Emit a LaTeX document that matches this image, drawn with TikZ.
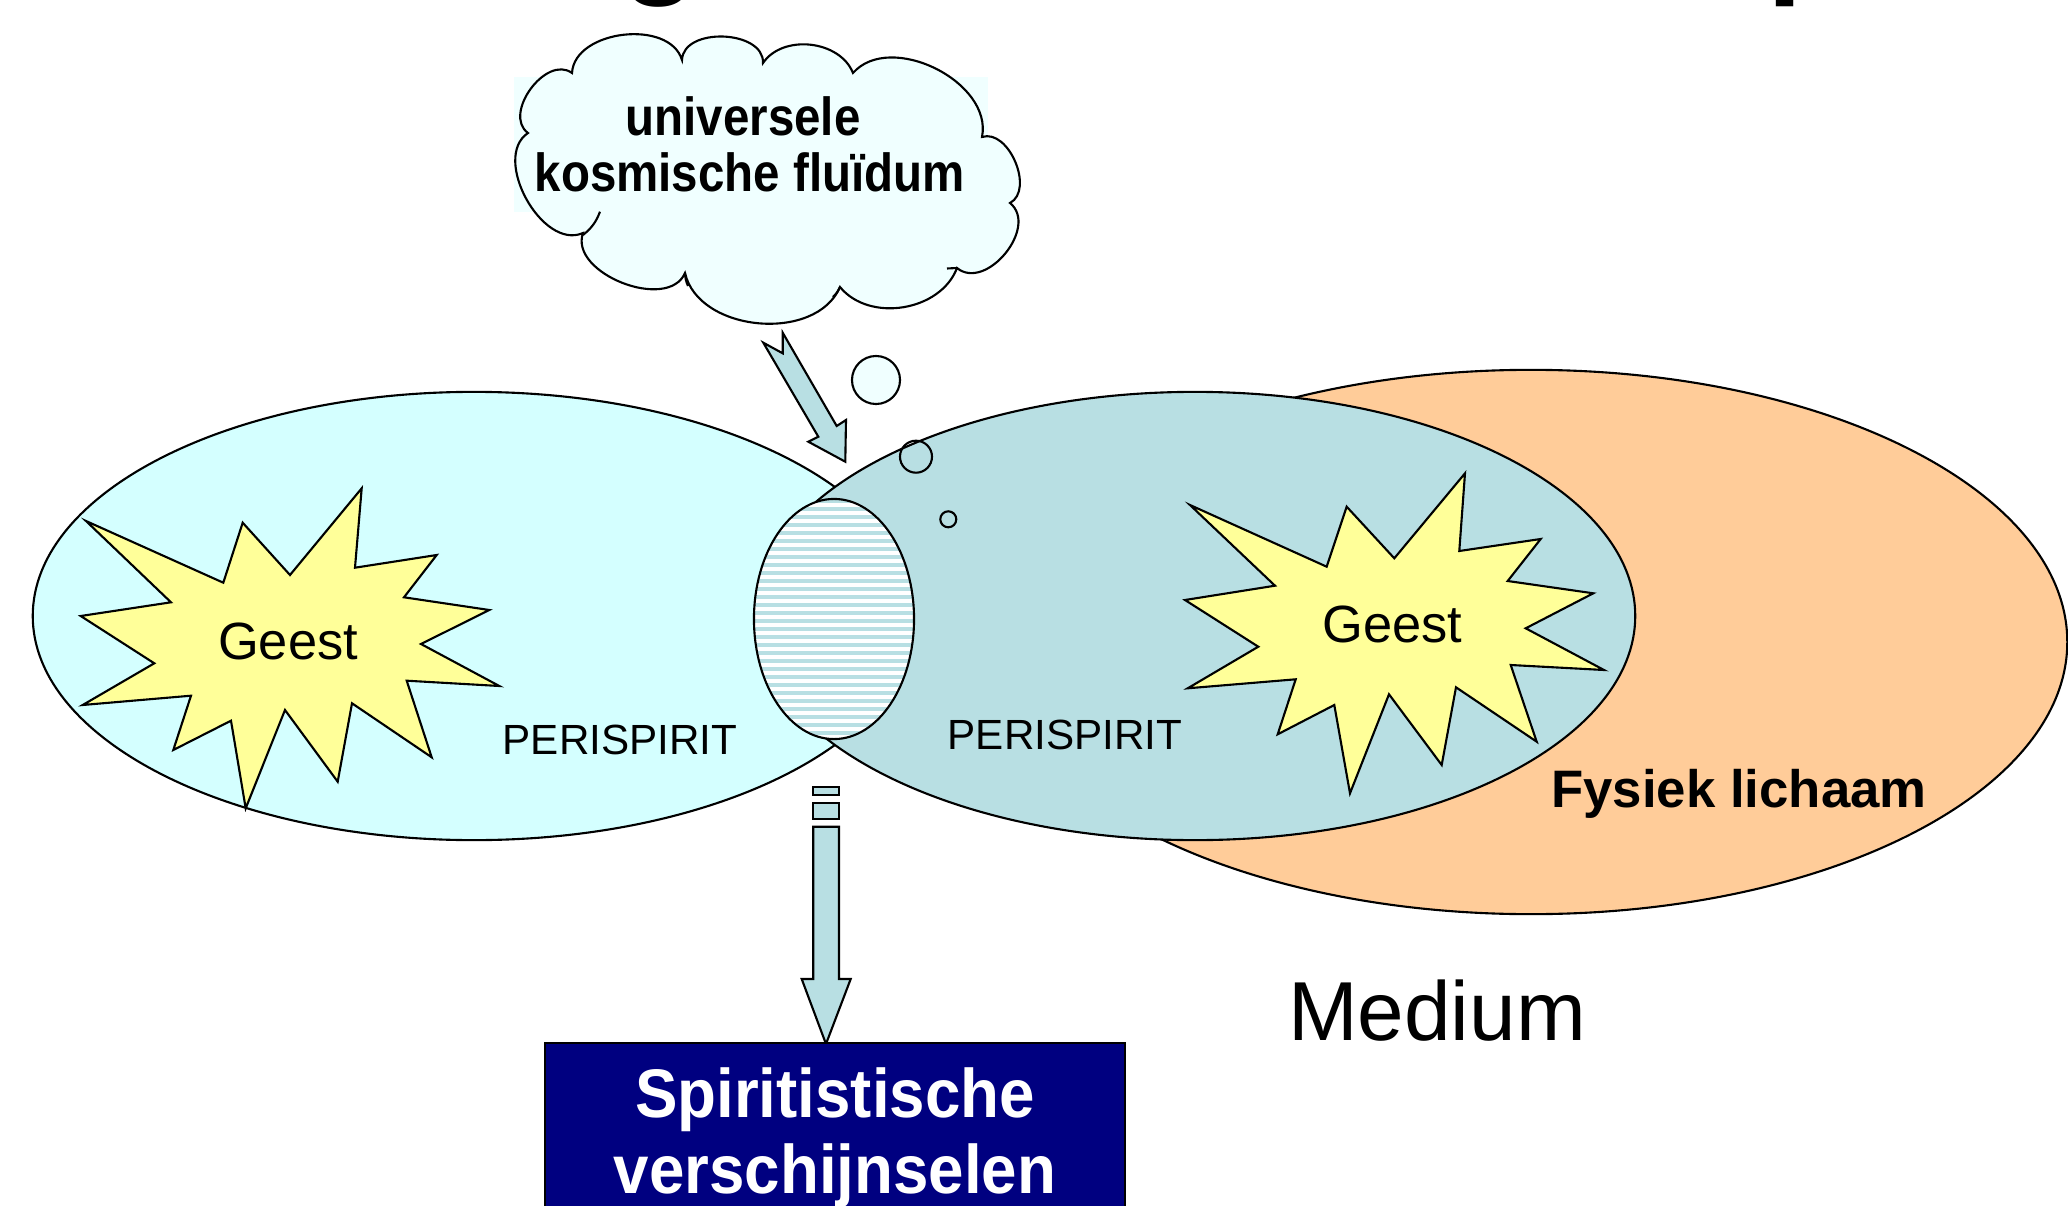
\documentclass[tikz,border=0pt]{standalone}
\usepackage{fontspec}
\usepackage{graphicx}
\setmainfont{Liberation Sans}
\definecolor{plcyan}{HTML}{D4FFFF}
\definecolor{pteal}{HTML}{B8DFE3}
\definecolor{porange}{HTML}{FFCC99}
\definecolor{pyellow}{HTML}{FFFF99}
\definecolor{pazure}{HTML}{F0FFFF}
\definecolor{pnavy}{HTML}{000080}
\begin{document}
\begin{tikzpicture}[x=0.01cm,y=-0.01cm,line join=miter,
  outline/.style={draw=black,line width=0.6pt},
  starshape/.style={outline,fill=pyellow},
  blockarrow/.style={outline,fill=pteal},
  lbl/.style={inner sep=0pt,anchor=base}]
\useasboundingbox (0,0) rectangle (2068,1206);
\clip (0,0) rectangle (2068,1206);

% title fragments (cut off at the top)
\node[inner sep=0pt,anchor=base west,font=\fontsize{36}{40}\selectfont\bfseries] (tg) at (621,-19) {g};
\node[inner sep=0pt,anchor=base west,font=\fontsize{36}{40}\selectfont\bfseries] (tp) at (1767,-19) {p};

% bodies
\draw[outline,fill=porange] (1531,642) ellipse [x radius=5.36cm,y radius=2.72cm];
\draw[outline,fill=plcyan] (474,616) ellipse [x radius=4.41cm,y radius=2.24cm];
\draw[outline,fill=pteal] (1195,616) ellipse [x radius=4.40cm,y radius=2.24cm];

% hatched overlap
\begin{scope}
\clip (834,619) ellipse [x radius=0.80cm,y radius=1.20cm];
\fill[white] (750,495) rectangle (920,745);
\foreach \k in {0,...,31} \draw[pteal,line width=1.1pt] (750,{501+8*\k}) -- (920,{501+8*\k});
\end{scope}
\draw[outline] (834,619) ellipse [x radius=0.80cm,y radius=1.20cm];

% stars
\draw[starshape] (86,521) -- (223.3,582.7) -- (242.7,522.7) -- (290,575) -- (361.7,488.3) -- (355,567.7) -- (436.7,555) -- (404,597.3) -- (489.3,610) -- (421,644) -- (499.3,686) -- (406.7,680.7) -- (431.7,757.3) -- (352,703.3) -- (337.7,781.7) -- (285,710) -- (245.7,808.3) -- (231,720.7) -- (173.3,750) -- (191,695.7) -- (82.7,705) -- (154.3,663.3) -- (80.7,616) -- (171,602.3) -- cycle;
\draw[starshape] (1190,505) -- (1326.7,566.7) -- (1346.7,506.7) -- (1394.3,558.3) -- (1465,473.3) -- (1459.3,551) -- (1540.7,539) -- (1507.7,581) -- (1593.3,593.3) -- (1525.7,628.3) -- (1604,670) -- (1510.7,665) -- (1536.7,741.7) -- (1456,687.3) -- (1441.7,765) -- (1389,694.3) -- (1350,793.3) -- (1334.3,705) -- (1277.7,734.3) -- (1295.7,679.3) -- (1187.7,688.3) -- (1258.3,646.7) -- (1185,600) -- (1275,585.7) -- cycle;

% labels
\node[lbl,font=\fontsize{14.9}{18}\selectfont] (geest1) at (288,659.3) {Geest};
\node[lbl,font=\fontsize{14.9}{18}\selectfont] (geest2) at (1392.3,642.7) {Geest};
\node[lbl,font=\fontsize{12}{14}\selectfont] (peri1) at (620,754.5) {PERISPIRIT};
\node[lbl,font=\fontsize{12}{14}\selectfont] (peri2) at (1065,749) {PERISPIRIT};
\node[lbl,font=\fontsize{15}{18}\selectfont\bfseries] (fysiek) at (1739,807) {Fysiek lichaam};
\node[lbl,font=\fontsize{23.8}{28}\selectfont] (medium) at (1437,1040.7) {Medium};

% thought bubbles
\draw[outline,fill=pazure] (876,380) circle [radius=0.24cm];
\draw[outline] (916,456.7) circle [radius=0.16cm];
\draw[outline] (948.3,519.3) circle [radius=0.08cm];

% cloud
\def\cloudpath{(528,133) to[bend left=90,looseness=1.1] (572,73) to[bend left=80] (682,60) to[bend left=90,looseness=1.05] (763,63) to[bend left=62] (853,73) to[bend left=75] (982,137) to[bend left=85] (1010,203) to[bend left=90,looseness=1.15] (957,268) to[bend left=60] (840,287) to[bend left=72] (685,273) to[bend left=88] (583,233) to[bend left=85] (528,133) -- cycle}
\fill[pazure] \cloudpath;
\fill[pazure] (514,76.7) rectangle (988.3,211.7);
\draw[line width=0.6pt] \cloudpath;
\draw[line width=0.6pt] (583,235) to[bend right=15] (600,211.7);
\draw[line width=0.6pt] (685,273) to[bend right=10] (688,286);
\draw[line width=0.6pt] (840,287) to[bend left=10] (833,297);
\draw[line width=0.6pt] (957,268) -- (947,268.5);
\node[lbl,font=\fontsize{13.5}{16}\selectfont\bfseries] (uni1) at (743,136) {\scalebox{1}[1.13]{universele}};
\node[lbl,font=\fontsize{13.5}{16}\selectfont\bfseries] (uni2) at (749.7,191.7) {\scalebox{1}[1.13]{kosmische fluïdum}};

% arrow from cloud into overlap
\draw[blockarrow] (763.3,342.7) -- (818.3,436.7) -- (808.3,441.7) -- (845.3,461.7) -- (846,420) -- (836.7,426) -- (782.7,332.7) -- (782.7,353.3) -- cycle;

% arrow down to result box
\draw[blockarrow] (813.3,786.7) rectangle (839,795.3);
\draw[blockarrow] (813.3,802.7) rectangle (839,819.3);
\draw[blockarrow] (813.3,826.7) -- (813.3,979) -- (801.7,979) -- (826,1044) -- (850.7,979) -- (839,979) -- (839,826.7) -- cycle;

% result box
\draw[fill=pnavy,draw=black,line width=0.6pt] (545,1043) rectangle (1125,1260);
\node[lbl,text=white,font=\fontsize{18.1}{22}\selectfont\bfseries] (spir1) at (835,1117.3) {\scalebox{1}[1.08]{Spiritistische}};
\node[lbl,text=white,font=\fontsize{18.1}{22}\selectfont\bfseries] (spir2) at (835,1193.3) {\scalebox{1}[1.08]{verschijnselen}};
\end{tikzpicture}
\end{document}
